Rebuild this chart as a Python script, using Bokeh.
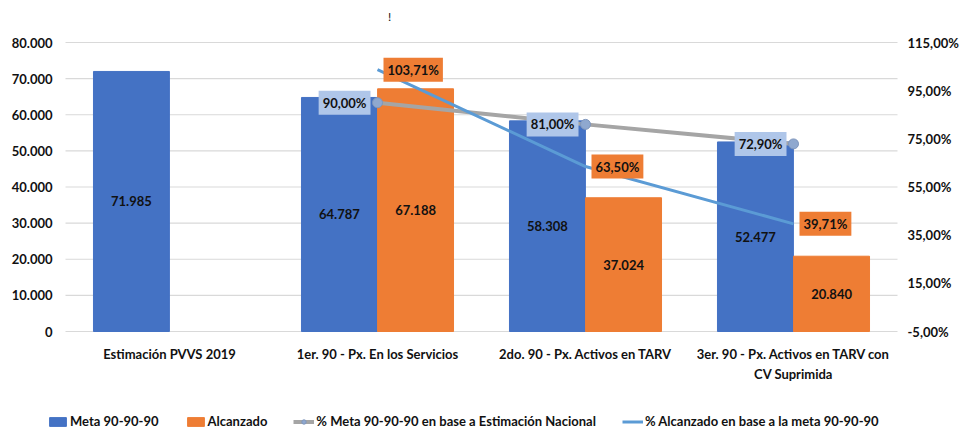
import math
from bokeh.plotting import figure
from bokeh.models import ColumnDataSource, Range1d, Legend, LegendItem
from bokeh.transform import dodge
from bokeh.core.properties import value
from bokeh.embed import file_html
from bokeh.resources import INLINE

nan = float("nan")

# ---------------- data ----------------
categories = ["Estimación PVVS 2019",
              "1er. 90 - Px. En los Servicios",
              "2do. 90 - Px. Activos en TARV",
              "3er. 90 - Px. Activos en TARV con CV Suprimida"]
category_line1 = ["Estimación PVVS 2019",
                  "1er. 90 - Px. En los Servicios",
                  "2do. 90 - Px. Activos en TARV",
                  "3er. 90 - Px. Activos en TARV con"]
category_line2 = ["", "", "", "CV Suprimida"]
meta = [71985, 64787, 58308, 52477]
alcanzado = [nan, 67188, 37024, 20840]
pct_meta = [nan, 90.00, 81.00, 72.90]
pct_alcanzado = [nan, 103.71, 63.50, 39.71]

left_ticks = [0, 10000, 20000, 30000, 40000, 50000, 60000, 70000, 80000]
left_tick_labels = ["0", "10.000", "20.000", "30.000", "40.000",
                    "50.000", "60.000", "70.000", "80.000"]
right_ticks = [-5, 15, 35, 55, 75, 95, 115]
right_tick_labels = ["-5,00%", "15,00%", "35,00%", "55,00%",
                     "75,00%", "95,00%", "115,00%"]

series_names = ["Meta 90-90-90", "Alcanzado",
                "% Meta 90-90-90 en base a Estimación Nacional",
                "% Alcanzado en base a la meta 90-90-90"]
stray_text = "!"


def fmt_int(v):
    if v is None or (isinstance(v, float) and math.isnan(v)):
        return ""
    return f"{int(v):,}".replace(",", ".")


def fmt_pct(v):
    if v is None or (isinstance(v, float) and math.isnan(v)):
        return ""
    return f"{v:.2f}".replace(".", ",") + "%"


# ---------------- layout (pixels) ----------------
W, H = 963, 429
PL, PR, PT, PB = 65, 897, 42, 331          # plot area inside the canvas
n = len(categories)
px_x = (PR - PL) / n                       # pixels per category
y0, y1 = left_ticks[0], left_ticks[-1]
u = (y1 - y0) / (PB - PT)                  # data units per pixel (left)
r0, r1 = right_ticks[0], right_ticks[-1]
ur = (r1 - r0) / (PB - PT)                 # data units per pixel (right)

x_range = Range1d(-PL / px_x, n + (W - PR) / px_x)
y_range = Range1d(y0 - (H - PB) * u, y1 + PT * u)
pct_range = Range1d(r0 - (H - PB) * ur, r1 + PT * ur)

xc = [i + 0.5 for i in range(n)]
src = ColumnDataSource(dict(
    xc=xc,
    meta=meta,
    alc=alcanzado,
    meta_mid=[m / 2 for m in meta],
    alc_mid=[a / 2 for a in alcanzado],
    meta_lbl=[fmt_int(v) for v in meta],
    alc_lbl=[fmt_int(v) for v in alcanzado],
    pm=pct_meta,
    pa=pct_alcanzado,
    pm_lbl=[fmt_pct(v) for v in pct_meta],
    pa_lbl=[fmt_pct(v) for v in pct_alcanzado],
    l1=category_line1,
    l2=category_line2,
    l1y=[y0 - 14 * u] * n,
    l2y=[y0 - 34 * u] * n,
))
lt = ColumnDataSource(dict(y=left_ticks, lbl=left_tick_labels,
                           x0=[0] * len(left_ticks), x1=[n] * len(left_ticks)))
rt = ColumnDataSource(dict(y=right_ticks, lbl=right_tick_labels,
                           x=[n] * len(right_ticks)))

FONT = value("Lato")
FS = "13px"
BLUE = "#4472C4"
ORANGE = "#EE7D34"
GRAY = "#A5A5A5"
LBLUE = "#5B9BD5"
TXT = "#111111"
tstyle = dict(text_font=FONT, text_font_style="bold", text_font_size=FS, text_color=TXT)

p = figure(width=W, height=H, x_range=x_range, y_range=y_range,
           output_backend="svg", toolbar_location=None,
           x_axis_location=None, y_axis_location=None, min_border=0)
p.extra_y_ranges = {"pct": pct_range}
p.outline_line_color = None
p.background_fill_color = "white"
p.xgrid.grid_line_color = None
p.ygrid.grid_line_color = None
p.xgrid.visible = False
p.ygrid.visible = False

# grid lines
p.segment(x0="x0", x1="x1", y0="y", y1="y", source=lt,
          line_color="#D9D9D9", line_width=1.2)

# tick labels
p.text(x="x0", y="y", text="lbl", source=lt, text_align="right",
       text_baseline="middle", x_offset=-13, **tstyle)
p.text(x="x", y="y", text="lbl", source=rt, y_range_name="pct", text_align="left",
       text_baseline="middle", x_offset=10, **tstyle)

# category labels
p.text(x="xc", y="l1y", text="l1", source=src, text_align="center",
       text_baseline="top", **tstyle)
p.text(x="xc", y="l2y", text="l2", source=src, text_align="center",
       text_baseline="top", **tstyle)

# bars
r_meta = p.vbar(x=dodge("xc", -0.183), top="meta", width=0.365,
                source=src, fill_color=BLUE, line_color=BLUE)
r_alc = p.vbar(x=dodge("xc", 0.183), top="alc", width=0.365,
               source=src, fill_color=ORANGE, line_color=ORANGE)

# bar value labels
p.text(x=dodge("xc", -0.183), y="meta_mid", text="meta_lbl", source=src,
       text_align="center", text_baseline="middle", **tstyle)
p.text(x=dodge("xc", 0.183), y="alc_mid", text="alc_lbl", source=src,
       text_align="center", text_baseline="middle", **tstyle)

# lines
r_gl = p.line(x="xc", y="pm", source=src, y_range_name="pct",
              line_color=GRAY, line_width=4)
r_gm = p.scatter(x="xc", y="pm", source=src, y_range_name="pct", marker="circle",
                 size=10, fill_color="#8FA8CF", line_color="#7F96BC", line_width=1)
r_bl = p.line(x="xc", y="pa", source=src, y_range_name="pct",
              line_color=LBLUE, line_width=3)

# line labels
p.text(x="xc", y="pm", text="pm_lbl", source=src, y_range_name="pct",
       text_align="right", text_baseline="middle", x_offset=-7,
       background_fill_color="#AFC6E9", padding=4, **tstyle)
p.text(x="xc", y="pa", text="pa_lbl", source=src, y_range_name="pct",
       text_align="left", text_baseline="middle", x_offset=6,
       background_fill_color=ORANGE, padding=4, **tstyle)

# stray mark at top
p.text(x=[xc[1]], y=[y1 + 26 * u], text=[stray_text], x_offset=12,
       text_align="center", text_baseline="middle", text_font=FONT,
       text_font_size="12px", text_color=TXT)

legend = Legend(items=[
    LegendItem(label=series_names[0], renderers=[r_meta]),
    LegendItem(label=series_names[1], renderers=[r_alc]),
    LegendItem(label=series_names[2], renderers=[r_gl, r_gm]),
    LegendItem(label=series_names[3], renderers=[r_bl]),
], orientation="horizontal", location=(47, 0))
legend.label_text_font = "Lato"
legend.label_text_font_style = "bold"
legend.label_text_font_size = FS
legend.label_text_color = TXT
legend.glyph_width = 21
legend.glyph_height = 11
legend.label_height = 14
legend.label_standoff = 2
legend.spacing = 26
legend.padding = 0
legend.margin = 0
legend.border_line_color = None
legend.background_fill_alpha = 0
p.add_layout(legend, "center")

open("out.html", "w").write(file_html(p, INLINE))
